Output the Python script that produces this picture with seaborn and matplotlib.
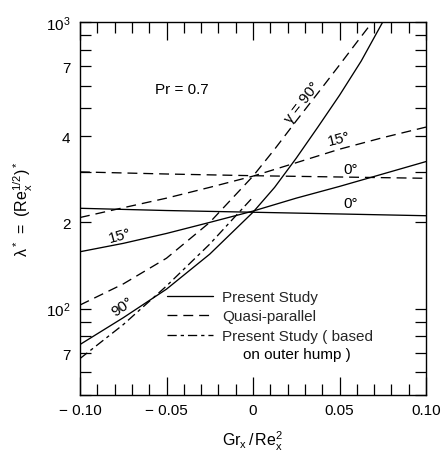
import numpy as np
import pandas as pd
import matplotlib
matplotlib.use("Agg")
import matplotlib.pyplot as plt
import seaborn as sns
from matplotlib.ticker import FixedLocator, NullFormatter, FixedFormatter
from matplotlib.lines import Line2D

# ---------------- data ----------------
x_lin = [-0.10, -0.05, 0.0, 0.05, 0.10]
lam_present_0 = [224, 220, 217, 214, 211]
lam_quasi_0 = [300, 295, 291, 288, 285]

x_15 = [-0.10, -0.075, -0.05, -0.025, 0.0, 0.025, 0.05, 0.075, 0.10]
lam_present_15 = [158, 169, 183, 200, 219, 243, 267, 295, 326]
lam_quasi_15 = [208, 225, 243, 265, 290, 323, 360, 395, 430]

x_present_90 = [-0.10, -0.075, -0.05, -0.025, 0.0, 0.0125, 0.025, 0.0375, 0.05, 0.0625, 0.075]
lam_present_90 = [75, 93, 117, 155, 217, 265, 335, 430, 555, 730, 1000]

x_quasi_90 = [-0.10, -0.075, -0.05, -0.025, 0.0, 0.0125, 0.025, 0.0375, 0.05, 0.06, 0.069]
lam_quasi_90 = [103, 122, 150, 200, 290, 360, 452, 565, 708, 850, 1000]

x_hump_90 = [-0.10, -0.075, -0.05, -0.025, 0.0]
lam_hump_90 = [67, 88, 120, 168, 245]

ytick_vals = [70, 100, 200, 400, 700, 1000]
ytick_labels = ["7", r"$\mathregular{10^2}$", "2", "4", "7", r"$\mathregular{10^3}$"]
yminor_vals = [50, 60, 80, 90, 300, 500, 600, 800, 900]
xtick_vals = [-0.10, -0.05, 0.0, 0.05, 0.10]
xtick_labels = ["\u2212 0.10", "\u2212 0.05", "0", "0.05", "0.10"]
legend_labels = ["Present Study", "Quasi-parallel", "Present Study ( based"]

# ---------------- style ----------------
sns.set_theme(style="ticks")
plt.rcParams["font.family"] = ["Liberation Sans", "DejaVu Sans"]
plt.rcParams["mathtext.fontset"] = "custom"
plt.rcParams["mathtext.rm"] = "Liberation Sans"
plt.rcParams["mathtext.it"] = "Liberation Sans:italic"
plt.rcParams["mathtext.bf"] = "Liberation Sans:bold"

fig = plt.figure(figsize=(4.41, 4.60), dpi=100)
ax = fig.add_axes([80 / 441, 64 / 460, 346 / 441, 373 / 460])
ax.set_facecolor("white")

solid = "-"
dashed = (0, (7.5, 4.5))
dashdot = (0, (7, 3, 2.5, 3))
lw = 0.95

series = [
    (x_lin, lam_present_0, solid),
    (x_lin, lam_quasi_0, dashed),
    (x_15, lam_present_15, solid),
    (x_15, lam_quasi_15, dashed),
    (x_present_90, lam_present_90, solid),
    (x_quasi_90, lam_quasi_90, dashed),
    (x_hump_90, lam_hump_90, dashdot),
]
for xs, ys, ls in series:
    df = pd.DataFrame({"x": xs, "lam": ys})
    sns.lineplot(data=df, x="x", y="lam", ax=ax, color="black", linewidth=lw,
                 linestyle=ls, sort=False, estimator=None)

ax.set_yscale("log")
ax.set_xlim(-0.10, 0.10)
ax.set_ylim(50, 1000)

ax.yaxis.set_major_locator(FixedLocator(ytick_vals))
ax.yaxis.set_major_formatter(FixedFormatter(ytick_labels))
ax.yaxis.set_minor_locator(FixedLocator(yminor_vals))
ax.yaxis.set_minor_formatter(NullFormatter())
ax.xaxis.set_major_locator(FixedLocator(xtick_vals))
ax.xaxis.set_major_formatter(FixedFormatter(xtick_labels))
ax.xaxis.set_minor_locator(FixedLocator(np.round(np.arange(-0.09, 0.1, 0.01), 2)))

ax.tick_params(which="both", direction="in", top=True, right=True,
               color="black", width=0.9, labelsize=11, labelcolor="black")
ax.tick_params(axis="x", which="major", length=13, pad=6)
ax.tick_params(axis="x", which="minor", length=8)
ax.tick_params(axis="y", which="both", length=8, pad=7)

for s in ax.spines.values():
    s.set_color("black")
    s.set_linewidth(1.0)

ax.set_xlabel(r"$\mathregular{Gr_x\, /\, Re_x^2}$", fontsize=11.5, color="black", labelpad=8)
ax.set_ylabel(r"$\mathregular{\lambda^* \ =\ (Re_x^{1/2})^*}$", fontsize=11.5, color="black", labelpad=8)

# ---------------- annotations ----------------
tkw = dict(color="black", fontsize=11, ha="center", va="center", rotation_mode="anchor")
ax.text(-0.0566, 583, "Pr = 0.7", ha="left", va="center", fontsize=11, color="black")
ax.text(0.0283, 525, "\u03b3 = 90\u00b0", rotation=52, **tkw)
ax.text(0.050, 392, "15\u00b0", rotation=14, **tkw)
ax.text(0.0566, 308, "0\u00b0", **tkw)
ax.text(0.0566, 234, "0\u00b0", **tkw)
ax.text(-0.0769, 181, "15\u00b0", rotation=15, **tkw)
ax.text(-0.0757, 102, "90\u00b0", rotation=35, **tkw)

# ---------------- legend ----------------
handles = [Line2D([], [], color="black", lw=lw, linestyle=solid),
           Line2D([], [], color="black", lw=lw, linestyle=dashed),
           Line2D([], [], color="black", lw=lw, linestyle=dashdot)]
leg = ax.legend(handles, legend_labels, loc="upper left",
                bbox_to_anchor=((167 - 80) / 346, (396 - 291) / 373),
                frameon=False, fontsize=11, handlelength=3.0, handletextpad=0.6,
                borderpad=0, borderaxespad=0, labelspacing=0.36)
ax.text((243 - 80) / 346, (396 - 355) / 373, "on outer hump )", transform=ax.transAxes,
        fontsize=11, color="black", ha="left", va="center")

fig.savefig("out.png", dpi=100, facecolor="white")
